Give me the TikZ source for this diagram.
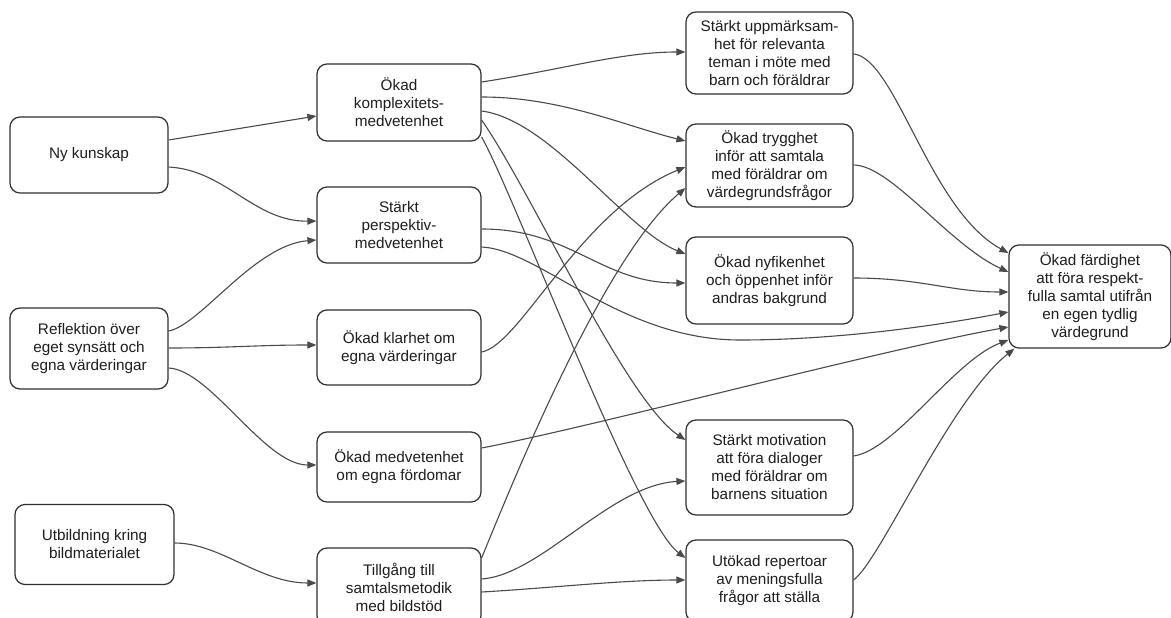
\documentclass[tikz,border=0pt]{standalone}
\usepackage{fontspec}
\setmainfont{Liberation Sans}
\usetikzlibrary{arrows.meta,calc}
\definecolor{edgec}{HTML}{4A4A4A}
\definecolor{boxc}{HTML}{303030}
\definecolor{txtc}{HTML}{1E1E1E}
\tikzset{
  box/.style={draw=boxc, line width=1.2pt, rounded corners=10pt, fill=white,
    align=center, inner sep=0pt, text=txtc,
    font=\fontsize{15.3pt}{18pt}\selectfont},
  conn/.style={draw=edgec, line width=1.1pt, -{Triangle[length=9pt,width=7pt]}},
}
\begin{document}
\begin{tikzpicture}[x=1pt,y=-1pt]
\useasboundingbox (0,0) rectangle (1171,618);
\clip (0,0) rectangle (1171,618);
\fill[white] (0,0) rectangle (1171,618);
% column 1
\node[box, minimum width=158pt, minimum height=76pt] (nk) at (89,155) {Ny kunskap};
\node[box, minimum width=158pt, minimum height=81pt] (refl) at (89,348.5) {Reflektion över\\eget synsätt och\\egna värderingar};
\node[box, minimum width=159pt, minimum height=80pt] (utb) at (94.5,544.5) {Utbildning kring\\bildmaterialet};
% column 2
\node[box, minimum width=164pt, minimum height=77pt] (komp) at (399,102.5) {Ökad\\komplexitets-\\medvetenhet};
\node[box, minimum width=164pt, minimum height=76pt] (persp) at (399,225) {Stärkt\\perspektiv-\\medvetenhet};
\node[box, minimum width=164pt, minimum height=75pt] (klar) at (399,347.5) {Ökad klarhet om\\egna värderingar};
\node[box, minimum width=164pt, minimum height=70pt] (medv) at (399,467) {Ökad medvetenhet\\om egna fördomar};
\node[box, minimum width=164pt, minimum height=78pt] (till) at (399,587) {Tillgång till\\samtalsmetodik\\med bildstöd};
% column 3
\node[box, minimum width=167pt, minimum height=82pt] (upp) at (769.5,53) {Stärkt uppmärksam-\\het för relevanta\\teman i möte med\\barn och föräldrar};
\node[box, minimum width=167pt, minimum height=83pt] (tryg) at (769.5,165.5) {Ökad trygghet\\inför att samtala\\med föräldrar om\\värdegrundsfrågor};
\node[box, minimum width=167pt, minimum height=87pt] (nyf) at (769.5,280.5) {Ökad nyfikenhet\\och öppenhet inför\\andras bakgrund};
\node[box, minimum width=167pt, minimum height=95pt] (motiv) at (769.5,467.5) {Stärkt motivation\\att föra dialoger\\med föräldrar om\\barnens situation};
\node[box, minimum width=167pt, minimum height=82pt] (utok) at (769.5,581) {Utökad repertoar\\av meningsfulla\\frågor att ställa};
% column 4
\node[box, minimum width=162pt, minimum height=103pt] (fard) at (1090,296.5) {Ökad färdighet\\att föra respekt-\\fulla samtal utifrån\\en egen tydlig\\värdegrund};
% connectors col1 -> col2
\draw[conn] ([yshift=15pt]nk.east) -- ([yshift=-13.5pt]komp.west);
\draw[conn] ([yshift=-12pt]nk.east) .. controls +(57,3) and +(-62,1) .. ([yshift=4pt]persp.west);
\draw[conn] ([yshift=17.5pt]refl.east) .. controls +(32,-6) and +(-62,5) .. ([yshift=-15pt]persp.west);
\draw[conn] ([yshift=0.5pt]refl.east) .. controls +(60,0) and +(-60,0) .. ([yshift=2.5pt]klar.west);
\draw[conn] ([yshift=-19.5pt]refl.east) .. controls +(42,2) and +(-52,0) .. ([yshift=2pt]medv.west);
\draw[conn] ([yshift=1.5pt]utb.east) .. controls +(46,0) and +(-57,0) .. ([yshift=4pt]till.west);
% col2 -> col3
\draw[conn] ([yshift=20.5pt]komp.east) .. controls +(79,-12) and +(-65,0) .. ([yshift=1pt]upp.west);
\draw[conn] ([yshift=5.5pt]komp.east) .. controls +(79,0) and +(-60,-15) .. ([yshift=24.5pt]tryg.west);
\draw[conn] ([yshift=-8.5pt]komp.east) .. controls +(69,9) and +(-60,-24) .. ([yshift=26.5pt]nyf.west);
\draw[conn] ([yshift=-17.5pt]komp.east) .. controls +(49,70) and +(-60,-40) .. ([yshift=27.5pt]motiv.west);
\draw[conn] ([yshift=-34.5pt]komp.east) .. controls +(34,60) and +(-50,-38) .. ([yshift=23pt]utok.west);
\draw[conn] ([yshift=-4pt]persp.east) .. controls +(90,0) and +(-85,0) .. ([yshift=-2.5pt]nyf.west);
\draw[conn] ([yshift=-22pt]persp.east) .. controls +(59,3) and (620,340) .. (740,340) .. controls (840,340) and (940,325) .. ([yshift=-15.5pt]fard.west);
\draw[conn] ([yshift=-4.5pt]klar.east) .. controls +(39,-7) and +(-105,43) .. ([yshift=-1.5pt]tryg.west);
\draw[conn] ([yshift=19pt]medv.east) .. controls +(119,-23) and +(-128,23) .. ([yshift=-30.5pt]fard.west);
\draw[conn] ([yshift=29pt]till.east) .. controls +(24,-58) and +(-85,72) .. ([yshift=-22.5pt]tryg.west);
\draw[conn] ([yshift=8pt]till.east) .. controls +(59,-4) and +(-75,4) .. ([yshift=-13.5pt]motiv.west);
\draw[conn] ([yshift=-5pt]till.east) .. controls +(70,-4) and +(-65,0) .. ([yshift=1pt]utok.west);
% col3 -> col4
\draw[conn] ([yshift=-1pt]upp.east) .. controls +(42,4) and +(-79,-43) .. ([yshift=43.5pt]fard.west);
\draw[conn] ([yshift=0.5pt]tryg.east) .. controls +(37,0) and +(-59,-27) .. ([yshift=24.5pt]fard.west);
\draw[conn] ([yshift=2.5pt]nyf.east) .. controls +(67,0) and +(-58,0) .. ([yshift=4.5pt]fard.west);
\draw[conn] ([yshift=11.5pt]motiv.east) .. controls +(42,-6) and +(-54,20) .. ([yshift=-43.5pt]fard.west);
\draw[conn] ([yshift=1pt]utok.east) .. controls +(27,-20) and +(-65,52) .. ([xshift=6pt]fard.south west);
\end{tikzpicture}
\end{document}
